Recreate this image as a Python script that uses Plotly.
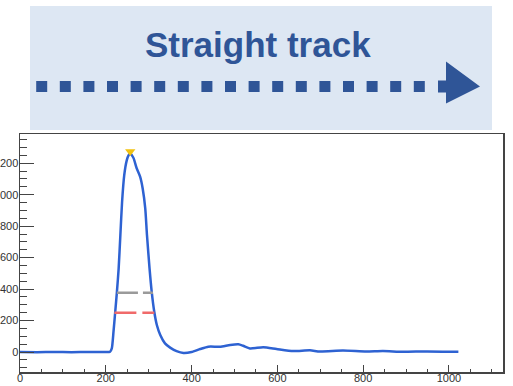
import plotly.graph_objects as go

# ---- data ----
sample = [0, 40, 80, 120, 160, 200, 210, 214, 218, 222, 226, 230, 234, 238, 243, 249, 253, 257,
          261, 265, 272, 280, 286, 292, 296, 302, 307, 313, 319, 327, 338, 350, 365, 381, 400,
          420, 439, 466, 490, 509, 520, 536, 567, 598, 637, 676, 699, 753, 807, 846, 893, 947, 1022]
amplitude = [0, -1, 0, -1, 0, 0, 2, 23, 130, 256, 384, 532, 744, 955, 1125, 1220, 1250, 1263,
             1250, 1231, 1168, 1115, 1040, 913, 744, 532, 384, 256, 172, 108, 55, 28, 6, -6, 0,
             19, 34, 34, 45, 49, 40, 23, 30, 19, 6, 11, 3, 9, 3, 6, 1, 4, 2]
peak_x, peak_y = [257], [1275]
gray_x, gray_y = [226, 310], [377, 377]
red_x, red_y = [220, 313], [250, 250]
x_ticks = [0, 200, 400, 600, 800, 1000]
y_ticks = [0, 200, 400, 600, 800, 1000, 1200]
banner_title = "Straight track"

AX = "#444444"
BLUE = "#2f5597"

fig = go.Figure()
fig.add_trace(go.Scatter(x=sample, y=amplitude, mode="lines",
                         line=dict(color="#2e62d2", width=2.5, shape="spline", smoothing=0.6),
                         hoverinfo="skip"))
fig.add_trace(go.Scatter(x=gray_x, y=gray_y, mode="lines",
                         line=dict(color="#9a9a9a", width=2.5, dash="21px,5px")))
fig.add_trace(go.Scatter(x=red_x, y=red_y, mode="lines",
                         line=dict(color="#f06a6a", width=2.5, dash="22px,6px")))
fig.add_trace(go.Scatter(x=peak_x, y=peak_y, mode="markers",
                         marker=dict(symbol="triangle-down", size=9, color="#f2c20f")))

# banner squares (decoration, in pixel space of an independent overlay subplot)
sq_x = [41.7 + 23.6 * k for k in range(17)]
fig.add_trace(go.Scatter(x=sq_x, y=[86.5] * len(sq_x), xaxis="x2", yaxis="y2", mode="markers",
                         marker=dict(symbol="square", size=11, color=BLUE, line=dict(width=0))))

H = 372
main_top = 238 / H
fig.update_layout(
    width=513, height=386,
    margin=dict(l=20, r=10, t=0, b=14, autoexpand=False),
    paper_bgcolor="white", plot_bgcolor="rgba(0,0,0,0)",
    showlegend=False,
    font=dict(family="Liberation Sans, Arial, sans-serif", size=11, color="#333333"),
    xaxis=dict(range=[0, 1126], tickvals=x_ticks, ticks="inside", ticklen=7, tickwidth=1,
               tickcolor=AX, showline=True, linecolor=AX, linewidth=1.5, mirror=True,
               showgrid=False, zeroline=False, automargin=False, anchor="y", domain=[0, 1],
               ticklabelstandoff=-5,
               minor=dict(ticks="inside", dtick=50, ticklen=3.5, tickcolor=AX, showgrid=False)),
    yaxis=dict(range=[-127, 1386], tickvals=y_ticks, ticks="inside", ticklen=14, tickwidth=1,
               tickcolor=AX, showline=True, linecolor=AX, linewidth=1.5, mirror=True,
               showgrid=False, zeroline=False, domain=[0, main_top], automargin=False, anchor="x",
               ticklabelstandoff=-2,
               minor=dict(ticks="inside", dtick=50, ticklen=7, tickcolor=AX, showgrid=False)),
    xaxis2=dict(range=[20, 503], visible=False, domain=[0, 1], anchor="y2",
                fixedrange=True, automargin=False),
    yaxis2=dict(range=[H, 0], visible=False, domain=[0, 1], anchor="x2",
                fixedrange=True, automargin=False),
    shapes=[
        dict(type="rect", xref="x2", yref="y2", x0=30, x1=492, y0=6, y1=130,
             fillcolor="#dde7f3", line=dict(width=0), layer="below"),
        dict(type="path", xref="x2", yref="y2",
             path="M 438 80.5 L 446 80.5 L 446 61.5 L 480 86.5 L 446 103.5 L 446 92.5 L 438 92.5 Z",
             fillcolor=BLUE, line=dict(width=0)),
    ],
    annotations=[
        dict(text="<b>" + banner_title + "</b>", xref="x2", yref="y2", x=257.5, y=44,
             showarrow=False, font=dict(family="Liberation Sans, Arial, sans-serif",
                                        size=35, color=BLUE)),
    ],
)

fig.write_html("out.html", config={"displayModeBar": False, "staticPlot": True},
               post_script="document.body.style.margin='0';document.body.style.padding='0';")
